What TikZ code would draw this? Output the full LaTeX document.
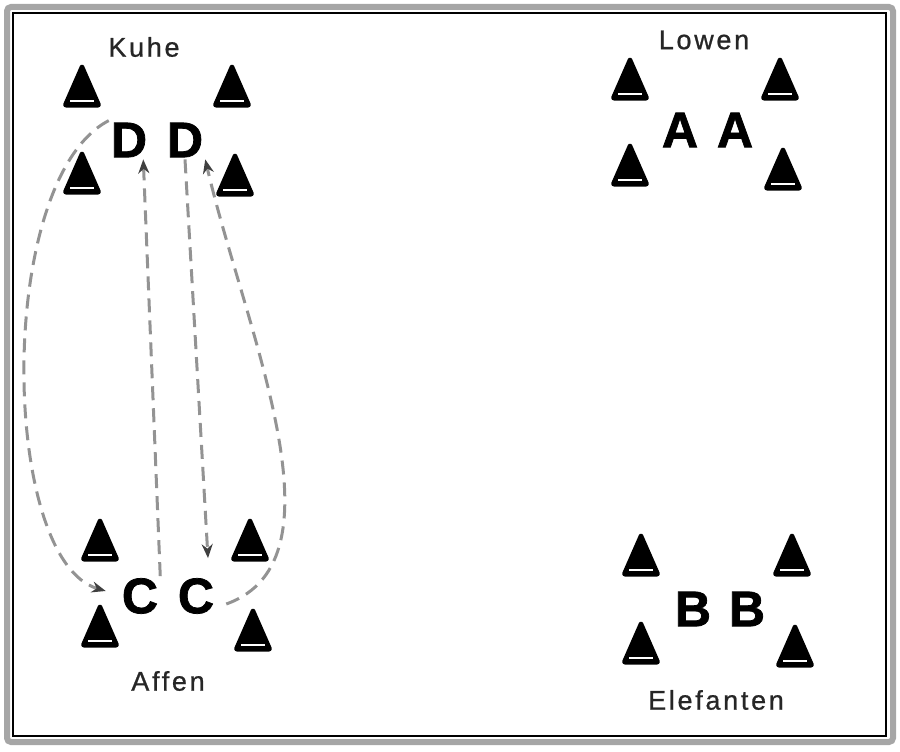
\documentclass[tikz,border=0pt]{standalone}
\usepackage{fontspec}
\setmainfont{Liberation Sans}
\newfontfamily\labelfont[LetterSpace=10,FakeBold=0.8]{Liberation Sans}
\newfontfamily\letterfont[FakeBold=1.5]{Liberation Sans Bold}
\usetikzlibrary{arrows.meta}

\begin{document}
\begin{tikzpicture}[x=1pt, y=-1pt,
	cone/.pic={\filldraw[line width=3pt, line join=round, rounded corners=2pt] (0,-21) -- (18,20) -- (-18,20) -- cycle;
		\draw[white, line width=1.3pt] (-12,15) -- (12,15);},
	letter/.style={font=\letterfont\fontsize{50}{50}\selectfont, inner sep=2pt},
	group/.style={font=\labelfont\fontsize{27}{27}\selectfont, text=black!85, inner sep=1pt},
	walk/.style={draw=gray!85, line width=3pt, dash pattern=on 14pt off 8pt,
		-{Stealth[length=14pt,width=11pt,gray!50!black]}}]
	\useasboundingbox (0,0) rectangle (900,752);
	\draw[gray!70, line width=6pt, rounded corners=4pt] (7,7) rectangle (893,742);
	\draw[line width=1.2pt] (13,13) rectangle (886,736);

	% Kuhe
	\node[group] (kuhe) at (144,47) {Kuhe};
	\pic at (82,86) {cone};
	\pic at (232,86) {cone};
	\pic at (82,173) {cone};
	\pic at (235,175) {cone};
	\node[letter] (d1) at (129,140) {D};
	\node[letter] (d2) at (185,140) {D};

	% Lowen
	\node[group] (lowen) at (704,40) {Lowen};
	\pic at (630,79) {cone};
	\pic at (780,79) {cone};
	\pic at (630,165) {cone};
	\pic at (783,169) {cone};
	\node[letter] (a1) at (680,130) {A};
	\node[letter] (a2) at (735,130) {A};

	% Affen
	\node[group] (affen) at (168,681) {Affen};
	\pic at (100,540) {cone};
	\pic at (250,540) {cone};
	\pic at (100,626) {cone};
	\pic at (253,630) {cone};
	\node[letter] (c1) at (140,596) {C};
	\node[letter] (c2) at (196,596) {C};

	% Elefanten
	\node[group] (elefanten) at (716,700) {Elefanten};
	\pic at (641,555) {cone};
	\pic at (792,555) {cone};
	\pic at (641,643) {cone};
	\pic at (795,646) {cone};
	\node[letter] (b1) at (693,609) {B};
	\node[letter] (b2) at (747,609) {B};

	\draw[walk] (d1.north west) .. controls (-5,180) and (0,560) .. ([xshift=-14pt,yshift=5pt]c1.west);
	\draw[walk] (c1.north east) -- ([xshift=-6pt]d1.south east);
	\draw[walk] (d2.south) -- ([xshift=12pt,yshift=18pt]c2.north);
	\draw[walk] ([xshift=10pt,yshift=-8pt]c2.east) .. controls (350,560) and (245,330) .. (d2.south east);
\end{tikzpicture}
\end{document}
